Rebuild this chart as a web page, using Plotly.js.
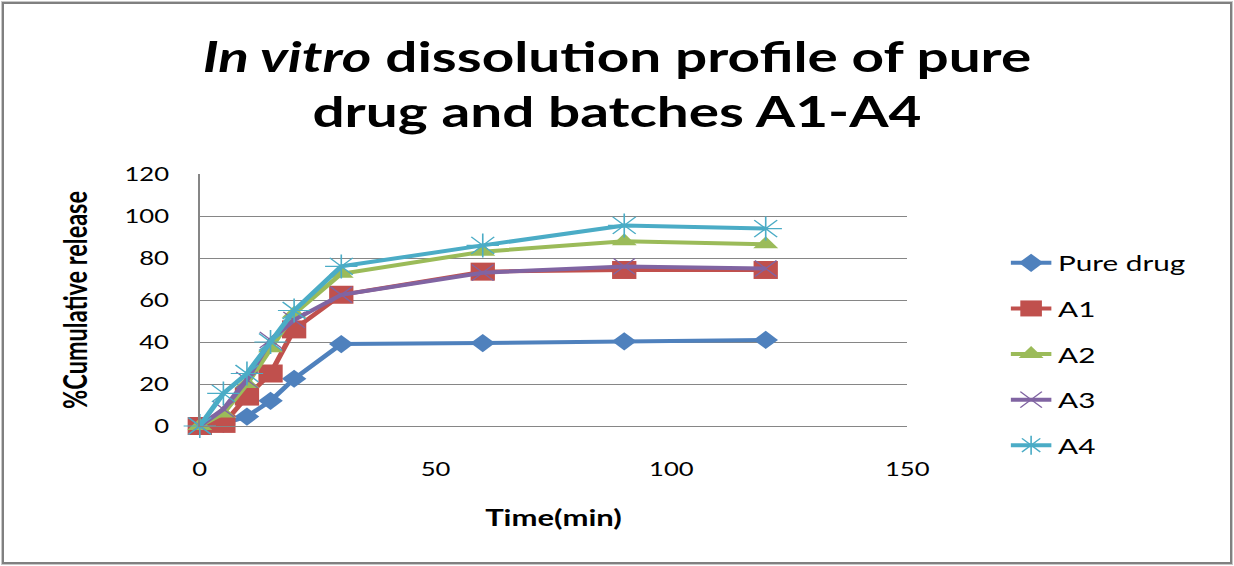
<!DOCTYPE html>
<html>
<head>
<meta charset="utf-8">
<script src="https://cdn.plot.ly/plotly-3.0.1.min.js"></script>
<style>
  html, body { margin: 0; padding: 0; background: #ffffff; }
  #frame { position: relative; width: 1234px; height: 566px; overflow: hidden; background: #ffffff; }
  #edge { position: absolute; left: 2px; top: 2px; width: 1226px; height: 558px; border: 2px solid #808080; box-shadow: 0 0 0 1px #c8c8c8; pointer-events: none; z-index: 2; }
  /* chart is laid out narrower and widened, giving the broad lettering of the sheet */
  #chart { position: absolute; left: 0; top: 0; width: 914px; height: 566px; transform: scaleX(1.35); transform-origin: 0 0; }
</style>
</head>
<body>
<div id="frame">
  <div id="chart"></div>
  <div id="edge"></div>
</div>
<script>
// Sampling times (min)
const timeMin = [0, 5, 10, 15, 20, 30, 60, 90, 120];

// % cumulative release for each formulation
const pureDrug = [0, 1, 4.5, 12, 22.5, 39, 39.5, 40.3, 41];
const batchA1  = [0, 1, 14, 25, 46, 62.5, 73.5, 74.3, 74.3];
const batchA2  = [0, 6, 20, 37, 53.5, 72.5, 83, 88, 86.5];
const batchA3  = [0, 8, 22, 41, 50.5, 62.5, 73, 76, 75];
const batchA4  = [0, 15.5, 25, 40, 55, 76, 86, 95.5, 94];

const seriesNames = ["Pure drug", "A1", "A2", "A3", "A4"];
const seriesData = [pureDrug, batchA1, batchA2, batchA3, batchA4];

const colors = ["#4F81BD", "#C0504D", "#9BBB59", "#8064A2", "#4BACC6"];
const symbols = ["diamond", "square", "triangle-up", "x-thin-open", "asterisk-open"];
const sizes = [14, 18, 16, 16, 20];

const FONT = "Lato, 'Open Sans', 'Liberation Sans', sans-serif";

const traces = seriesData.map((vals, i) => ({
  type: "scatter",
  mode: "lines+markers",
  name: seriesNames[i],
  legendgroup: "g" + i,
  x: timeMin,
  y: vals,
  cliponaxis: false,
  line: { color: colors[i], width: 4 },
  marker: {
    symbol: symbols[i],
    size: sizes[i],
    color: colors[i],
    line: { color: colors[i], width: (i >= 3 ? 1.2 : 0) }
  }
}));

const layout = {
  width: 914,
  height: 566,
  paper_bgcolor: "#ffffff",
  plot_bgcolor: "#ffffff",
  margin: { l: 148, r: 242, t: 174, b: 140 },
  font: { family: FONT, color: "#000000" },
  title: {
    text: "<i>In vitro</i> dissolution profile of pure<br>drug and batches A1-A4",
    font: { family: FONT, size: 42, weight: 700, color: "#000000" },
    x: 0.5,
    xref: "container",
    xanchor: "center",
    y: 1 - 72 / 566,
    yref: "container",
    yanchor: "top"
  },
  xaxis: {
    range: [0, 150],
    tickmode: "linear",
    tick0: 0,
    dtick: 50,
    showgrid: false,
    zeroline: false,
    showline: true,
    linecolor: "#868686",
    linewidth: 1,
    ticks: "",
    ticklabelstandoff: 26,
    tickfont: { family: FONT, size: 19, color: "#000000" },
    title: { text: "Time(min)", font: { family: FONT, size: 23, weight: 700 }, standoff: 31 }
  },
  yaxis: {
    range: [0, 120],
    tickmode: "linear",
    tick0: 0,
    dtick: 20,
    showgrid: true,
    gridcolor: "#868686",
    gridwidth: 1,
    zeroline: false,
    showline: true,
    linecolor: "#868686",
    linewidth: 1,
    ticks: "",
    ticklabelstandoff: 18,
    tickfont: { family: FONT, size: 19, color: "#000000" },
    title: { text: "%Cumulative release", font: { family: FONT, size: 23.5, weight: 700 }, standoff: 20 }
  },
  legend: {
    x: 1.137,
    xanchor: "left",
    y: 0.73,
    yanchor: "top",
    tracegroupgap: 14,
    font: { family: FONT, size: 22, color: "#000000" },
    bgcolor: "rgba(0,0,0,0)"
  },
  showlegend: true
};

Plotly.newPlot("chart", traces, layout, { displayModeBar: false, staticPlot: true });
</script>
</body>
</html>
